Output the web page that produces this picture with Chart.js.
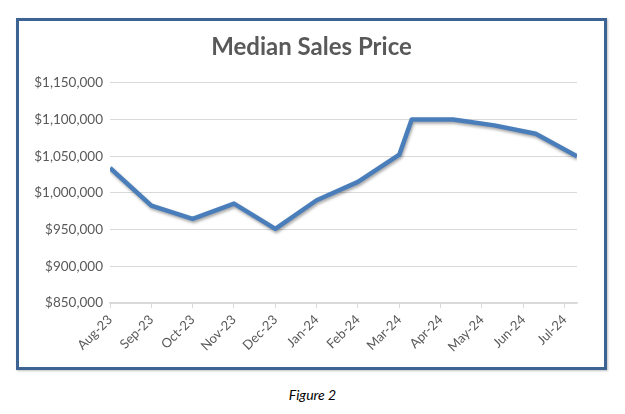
<!DOCTYPE html>
<html>
<head>
<meta charset="utf-8">
<script src="https://cdn.jsdelivr.net/npm/chart.js@4"></script>
<style>
  body { margin: 0; background: #fff; width: 625px; height: 414px; position: relative; font-family: Lato, sans-serif; }
  #box { position: absolute; left: 16px; top: 18px; width: 591px; height: 352px; box-sizing: border-box;
         border: 3px solid #3d6393; background: #fff; box-shadow: 1px 1px 2px rgba(0,0,0,0.25); }
  #box canvas { display: block; }
  #caption { position: absolute; left: 0; width: 625px; top: 386px; text-align: center;
             font-family: Lato, sans-serif; font-style: italic; font-size: 14px; color: #000; }
</style>
</head>
<body>
<div id="box"><canvas id="myChart" width="585" height="346"></canvas></div>
<div id="caption">Figure 2</div>
<script>
// month labels on the date axis (one tick per month)
const monthLabels = ['Aug-23', 'Sep-23', 'Oct-23', 'Nov-23', 'Dec-23', 'Jan-24',
                     'Feb-24', 'Mar-24', 'Apr-24', 'May-24', 'Jun-24', 'Jul-24'];
// sale dates as months after Aug-23 (later points fall ~10 days into the month)
const saleMonth = [0, 1, 2, 3, 4, 5, 6, 7, 7.3, 8.3, 9.3, 10.3, 11.3];
// median sales price
const medianPrice = [1034000, 982700, 964600, 985400, 951000, 990000, 1015000,
                     1052000, 1100000, 1100000, 1092000, 1080500, 1050000];
const priceTicks = [850000, 900000, 950000, 1000000, 1050000, 1100000, 1150000];

const points = saleMonth.map((m, i) => ({ x: m, y: medianPrice[i] }));

// soft drop shadow under the line, like the Excel style
const lineShadow = {
    id: 'lineShadow',
    beforeDatasetDraw(chart) {
        const ctx = chart.ctx;
        ctx.save();
        ctx.shadowColor = 'rgba(0,0,0,0.35)';
        ctx.shadowBlur = 3;
        ctx.shadowOffsetX = 1;
        ctx.shadowOffsetY = 2;
    },
    afterDatasetDraw(chart) {
        chart.ctx.restore();
    }
};

const canvas = document.getElementById('myChart');
const myChart = new Chart(canvas, {
    type: 'line',
    data: {
        datasets: [{
            label: 'Median Sales Price',
            data: points,
            borderColor: '#4a7ebb',
            borderWidth: 4.5,
            borderJoinStyle: 'round',
            pointRadius: 0,
            tension: 0,
            fill: false
        }]
    },
    options: {
        responsive: false,
        animation: false,
        layout: { padding: 0 },
        plugins: {
            legend: { display: false },
            tooltip: { enabled: false },
            title: {
                display: true,
                text: 'Median Sales Price',
                color: '#595959',
                font: { family: 'Lato', size: 24, weight: 'bold' },
                padding: { top: 12, bottom: 21 }
            }
        },
        scales: {
            x: {
                type: 'linear',
                min: saleMonth[0],
                max: saleMonth[saleMonth.length - 1],
                afterBuildTicks(scale) {
                    scale.ticks = monthLabels.map((_, i) => ({ value: i }));
                },
                afterFit(scale) { scale.height = 64; },
                ticks: {
                    autoSkip: false,
                    minRotation: 45,
                    maxRotation: 45,
                    padding: 4,
                    color: '#595959',
                    font: { family: 'Lato', size: 13 },
                    callback: (v) => monthLabels[v]
                },
                grid: { drawOnChartArea: false, drawTicks: true, tickLength: 5, color: '#d9d9d9', lineWidth: 1 },
                border: { color: '#d9d9d9', width: 1.5 }
            },
            y: {
                min: priceTicks[0],
                max: priceTicks[priceTicks.length - 1],
                afterBuildTicks(scale) {
                    scale.ticks = priceTicks.map(v => ({ value: v }));
                },
                afterFit(scale) { scale.width = 91; },
                ticks: {
                    padding: 7,
                    color: '#595959',
                    font: { family: 'Lato', size: 13.5 },
                    callback: (v) => '$' + v.toLocaleString('en-US')
                },
                grid: { color: '#d9d9d9', lineWidth: 1, drawTicks: false },
                border: { display: false }
            },
            // empty right axis, only keeps the right margin so the title stays centred
            yRight: {
                position: 'right',
                min: priceTicks[0],
                max: priceTicks[priceTicks.length - 1],
                afterFit(scale) { scale.width = 27; },
                ticks: { display: false },
                grid: { display: false },
                border: { display: false }
            }
        }
    },
    plugins: [lineShadow]
});
</script>
</body>
</html>
